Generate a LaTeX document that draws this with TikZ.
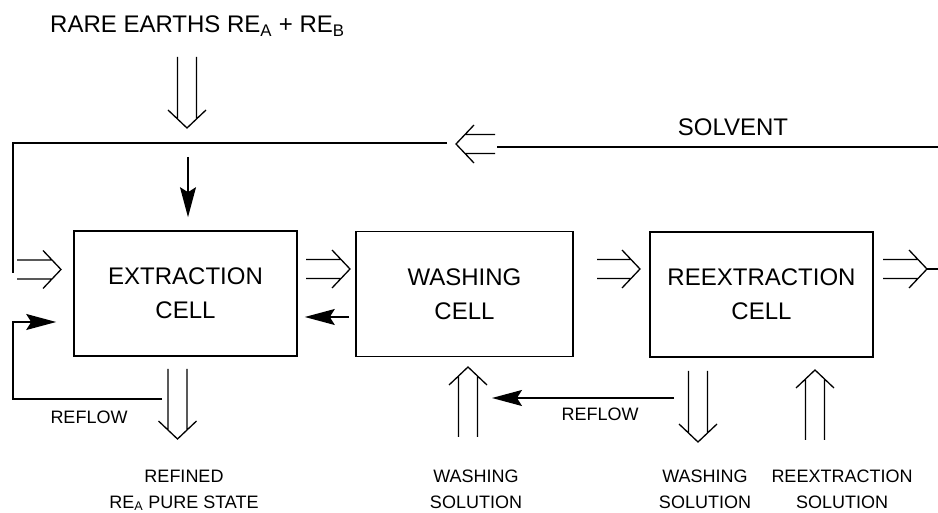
\documentclass[tikz,border=0pt]{standalone}
\usepackage{fontspec}
\setmainfont{Liberation Sans}
\usetikzlibrary{arrows.meta,calc}
\begin{document}
\begin{tikzpicture}[x=1pt,y=1pt,
 cell/.style={draw, line width=1.6pt, minimum width=223pt, minimum height=125pt, inner sep=0pt, align=center, font=\fontsize{24}{34}\selectfont},
 big/.style={font=\fontsize{24}{29}\selectfont, inner sep=0pt},
 small/.style={font=\fontsize{18}{22}\selectfont, inner sep=0pt, anchor=base},
 ln/.style={line width=1.3pt},
 filled/.style={ln, -{Stealth[length=30pt,width=16pt,inset=5pt]}},
 pics/darr/.style={code={\draw[ln] (0,9.5)--(#1-9,9.5) (0,-9.5)--(#1-9,-9.5) (#1-18,19)--(#1,0)--(#1-18,-19);}}
]
\useasboundingbox (0,0) rectangle (938,512);

% cells
\node[cell] (ext) at (185.5,218.5) {EXTRACTION\\CELL};
\node[cell, minimum width=217pt] (wash) at (464.5,218) {WASHING\\CELL};
\node[cell] (reext) at (761.5,217.5) {REEXTRACTION\\CELL};

% top feed
\node[big, anchor=base west] (feed) at (50,479) {RARE EARTHS RE\textsubscript{A} + RE\textsubscript{B}};
\coordinate (feedtail) at (187,455);
\pic[rotate=-90] at (feedtail) {darr=71};
\coordinate (feedin) at (188,355);
\draw[filled] (feedin) -- ($(ext.north)+(2.5,13)$);

% solvent
\node[big, anchor=base] (solv) at (733,376) {SOLVENT};
\coordinate (solvR) at (938,365);
\coordinate (solvL) at (497,365);
\draw[line width=1.8pt] (solvR) -- (solvL);
\coordinate (solvtail) at (495,368);
\pic[rotate=180] at (solvtail) {darr=39};
\coordinate (retA) at (447,369);
\coordinate (retB) at (13,369);
\coordinate (retC) at (13,239);
\draw[ln] (retA) -- (retB) -- (retC);
\coordinate (extin) at (17,242.5);
\pic at (extin) {darr=44};

% extraction <-> washing
\coordinate (ew) at (306,243);
\pic at (ew) {darr=44};
\draw[filled] ($(wash.west)+(-6,-23)$) -- ($(ext.east)+(7,-23.5)$);

% washing -> reextraction -> out
\coordinate (wr) at (597,243);
\pic at (wr) {darr=43};
\coordinate (rout) at (883,243);
\pic at (rout) {darr=44};
\coordinate (routend) at (938,243);
\draw[ln] (927,243) -- (routend);

% extraction reflow and product
\coordinate (rfA) at (162,113);
\coordinate (rfB) at (13,113);
\coordinate (rfC) at (13,190);
\draw[filled] (rfA) -- (rfB) -- (rfC) -- ($(ext.west)+(-17,-28.5)$);
\node[font=\fontsize{18}{22}\selectfont, inner sep=0pt] (rfl1) at (89,95) {REFLOW};
\coordinate (prod) at (177.5,143);
\pic[rotate=-90] at (prod) {darr=70};
\node[small] (ref1) at (184,30) {REFINED};
\node[small] (ref2) at (184,4) {RE\textsubscript{A} PURE STATE};

% washing solution in
\coordinate (wsin) at (468,75);
\pic[rotate=90] at (wsin) {darr=70};
\node[small] (ws1) at (476,30) {WASHING};
\node[small] (ws2) at (476,4) {SOLUTION};

% reextraction reflow
\coordinate (rf2A) at (674,114);
\coordinate (rf2B) at (492,114);
\draw[filled] (rf2A) -- (rf2B);
\node[font=\fontsize{18}{22}\selectfont, inner sep=0pt] (rfl2) at (600,98) {REFLOW};

% washing solution out
\coordinate (wsout) at (698,141);
\pic[rotate=-90] at (wsout) {darr=71};
\node[small] (wo1) at (705,30) {WASHING};
\node[small] (wo2) at (705,4) {SOLUTION};

% reextraction solution in
\coordinate (rsin) at (815,72);
\pic[rotate=90] at (rsin) {darr=70};
\node[small] (rs1) at (842,30) {REEXTRACTION};
\node[small] (rs2) at (842,4) {SOLUTION};
\end{tikzpicture}
\end{document}
